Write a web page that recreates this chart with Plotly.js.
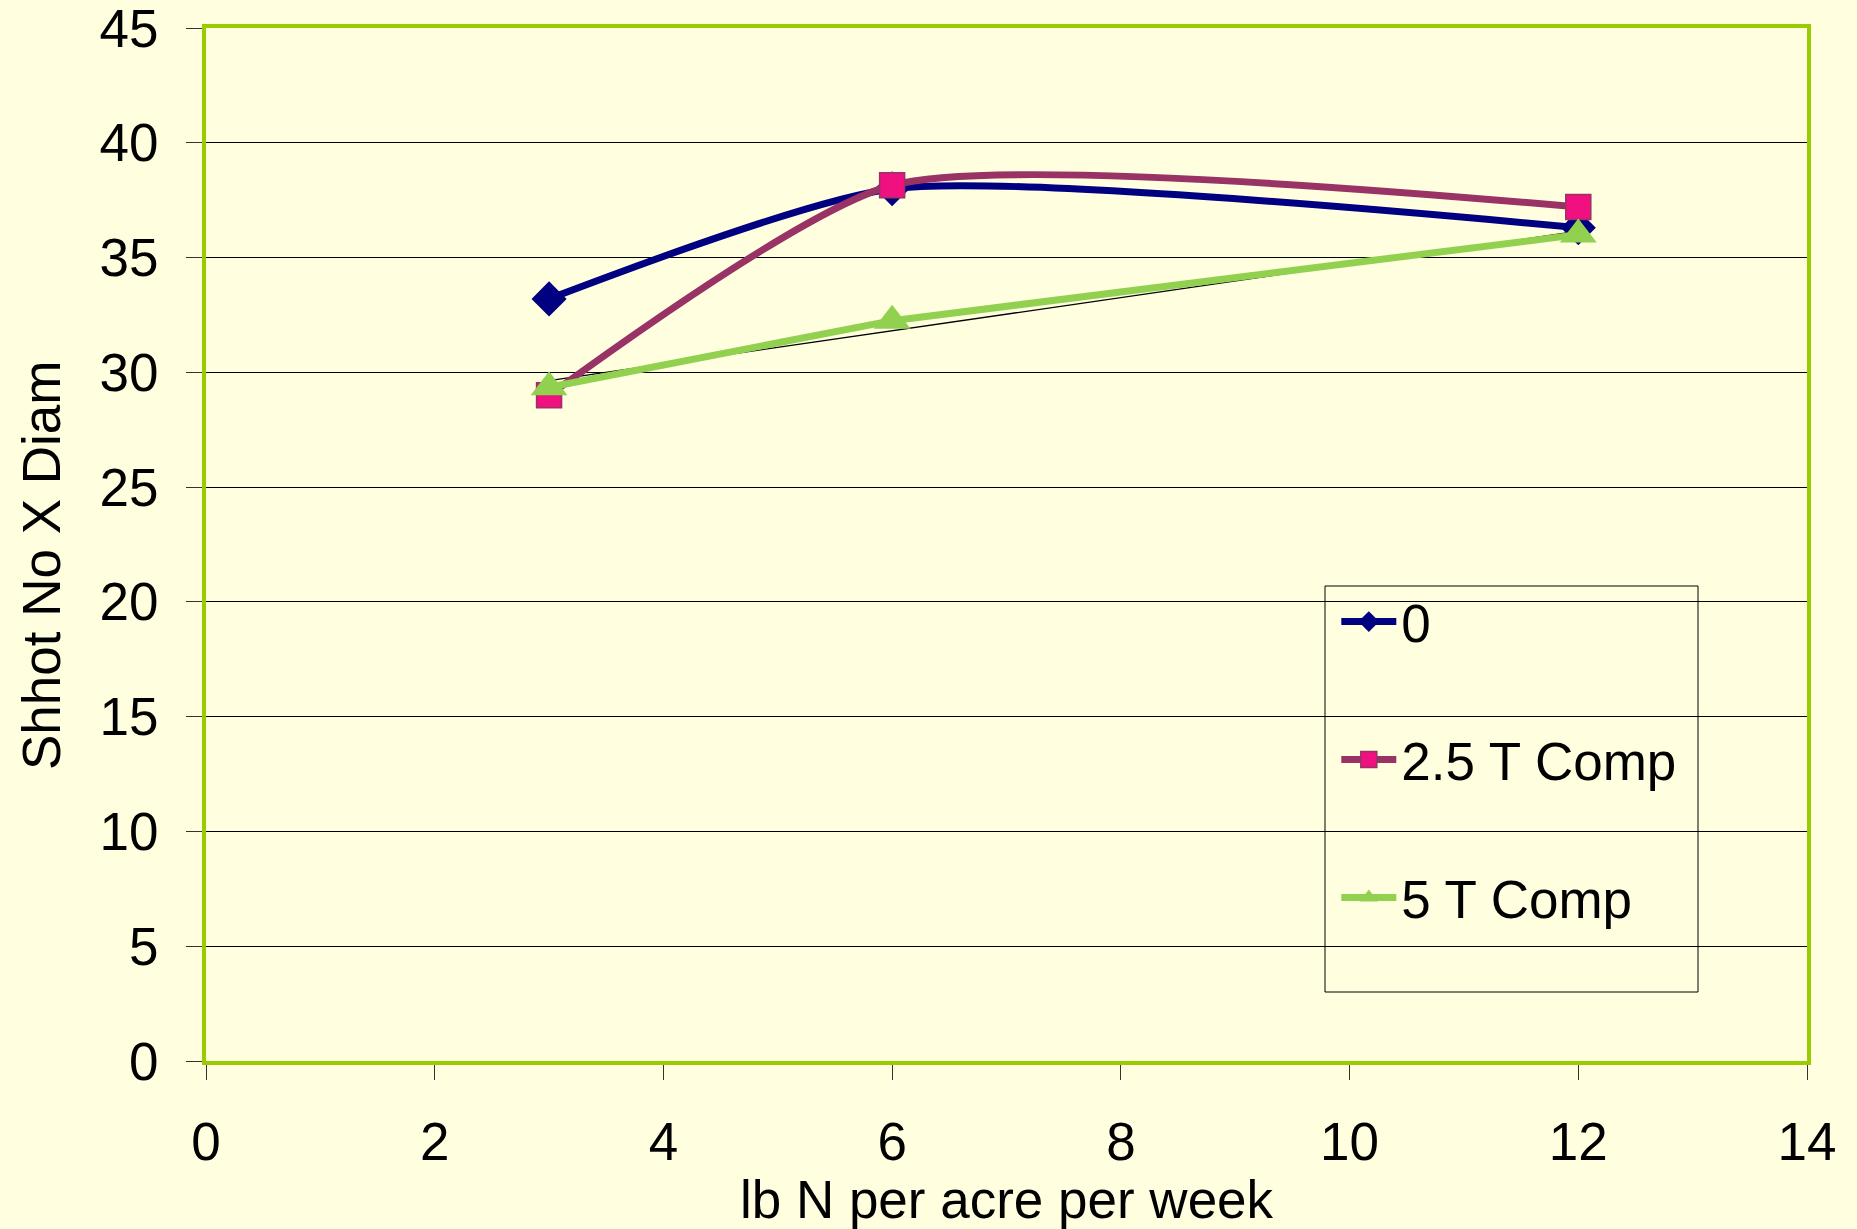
<!DOCTYPE html>
<html>
<head>
<meta charset="utf-8">
<script src="https://cdn.plot.ly/plotly-3.0.1.min.js"></script>
<style>
html,body{margin:0;padding:0;background:#FFFFE0;}
#chart{width:1857px;height:1229px;}
</style>
</head>
<body>
<div id="chart"></div>
<script>
const xRate = [3, 6, 12];
const seriesNames = ["0", "2.5 T Comp", "5 T Comp"];
const yZero = [33.2, 38.0, 36.3];
const yComp25 = [29.0, 38.15, 37.2];
const yComp5 = [29.35, 32.25, 36.0];
const xTicks = [0, 2, 4, 6, 8, 10, 12, 14];
const yTicks = [0, 5, 10, 15, 20, 25, 30, 35, 40, 45];
const xTitle = "lb N per acre per week";
const yTitle = "Shhot No X Diam";

// linear trendline of the 5 T Comp series (least squares)
function linfit(xs, ys) {
  const n = xs.length;
  const mx = xs.reduce((a, b) => a + b, 0) / n;
  const my = ys.reduce((a, b) => a + b, 0) / n;
  let sxy = 0, sxx = 0;
  for (let i = 0; i < n; i++) { sxy += (xs[i] - mx) * (ys[i] - my); sxx += (xs[i] - mx) ** 2; }
  const b = sxy / sxx, a = my - b * mx;
  return xs.map(x => a + b * x);
}
const trend5 = linfit(xRate, yComp5);

const font = "Liberation Sans, Arial, sans-serif";
const fs = 53;

const traces = [
  {
    x: xRate, y: trend5, mode: "lines", showlegend: false, hoverinfo: "skip",
    line: {color: "#000000", width: 1.3}
  },
  {
    x: xRate, y: yZero, name: seriesNames[0], mode: "lines+markers", legendgroup: "a",
    line: {color: "#000080", width: 7, shape: "spline", smoothing: 0.6},
    marker: {symbol: "diamond", size: 27, color: "#000080", line: {width: 0}}
  },
  {
    x: xRate, y: yComp25, name: seriesNames[1], mode: "lines+markers", legendgroup: "b",
    line: {color: "#993366", width: 7, shape: "spline", smoothing: 0.6},
    marker: {symbol: "square", size: 25, color: "#F0107F", line: {width: 1.5, color: "#993366"}}
  },
  {
    x: xRate, y: yComp5, name: seriesNames[2], mode: "lines+markers", legendgroup: "c",
    line: {color: "#92D050", width: 7},
    marker: {symbol: "triangle-up", size: 32, color: "#92D050", line: {width: 0}}
  }
];

const layout = {
  width: 1857, height: 1229,
  paper_bgcolor: "#FFFFE0",
  plot_bgcolor: "#FFFFE0",
  margin: {l: 206, r: 50, t: 28, b: 168},
  font: {family: font, size: fs, color: "#000000"},
  showlegend: true,
  legend: {
    x: 0.706, y: 0.465, xanchor: "left", yanchor: "top",
    bgcolor: "rgba(0,0,0,0)", borderwidth: 0,
    font: {family: font, size: fs, color: "#000000"},
    traceorder: "grouped", tracegroupgap: 66,
    itemwidth: 55
  },
  xaxis: {
    range: [0, 14], tickvals: xTicks, ticktext: xTicks.map(String),
    showgrid: false, zeroline: false,
    showline: true, linecolor: "#99CC00", linewidth: 4, mirror: true,
    ticks: "outside", ticklen: 15, tickwidth: 1, tickcolor: "#333333",
    ticklabelstandoff: 16, ticklabeloverflow: "allow",
    tickfont: {family: font, size: fs, color: "#000000"},
    title: {text: xTitle, font: {family: font, size: fs, color: "#000000"}, standoff: 10}
  },
  yaxis: {
    range: [0, 45], tickvals: yTicks, ticktext: yTicks.map(String),
    showgrid: true, gridcolor: "#000000", gridwidth: 1, zeroline: false,
    showline: true, linecolor: "#99CC00", linewidth: 4, mirror: true,
    ticks: "outside", ticklen: 16, tickwidth: 1, tickcolor: "#333333",
    ticklabelstandoff: 17, ticklabeloverflow: "allow",
    tickfont: {family: font, size: fs, color: "#000000"}
  },
  annotations: [
    {text: yTitle, xref: "paper", yref: "paper",
     x: (41 - 206) / 1601, y: (1061 - 566) / 1033, xanchor: "center", yanchor: "middle",
     textangle: -90, showarrow: false, font: {family: font, size: fs, color: "#000000"}}
  ],
  shapes: [
    {type: "rect", xref: "paper", yref: "paper",
     x0: (1325 - 206) / 1601, x1: (1698 - 206) / 1601,
     y0: (1061 - 992) / 1033, y1: (1061 - 586) / 1033,
     line: {color: "#000000", width: 1}, fillcolor: "rgba(0,0,0,0)", layer: "above"}
  ]
};

Plotly.newPlot("chart", traces, layout, {displayModeBar: false, staticPlot: true});
</script>
</body>
</html>
